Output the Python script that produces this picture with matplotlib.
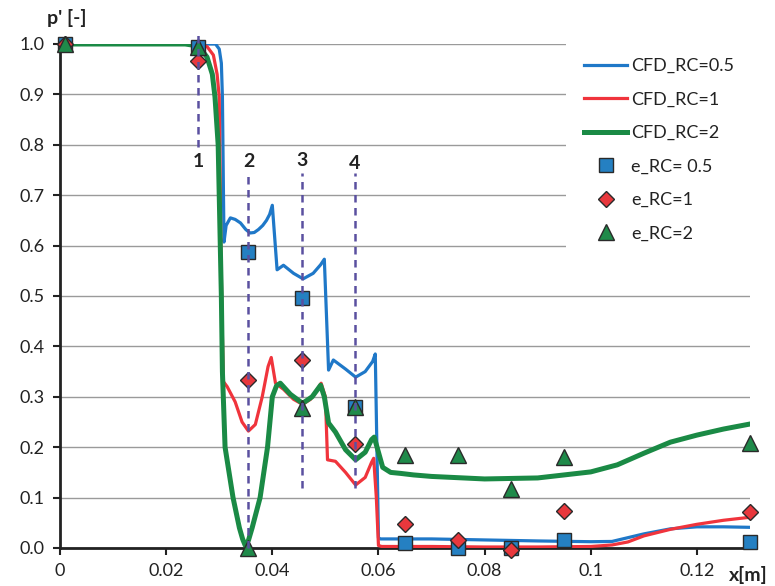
import matplotlib
matplotlib.use('Agg')
import matplotlib.pyplot as plt

plt.rcParams['font.family'] = ['Lato', 'DejaVu Sans']

# ---------------- data ----------------
cfd05_x = [0, 0.0264, 0.0293, 0.0300, 0.0304, 0.0306, 0.0308, 0.0309, 0.0313, 0.0321, 0.0330, 0.0340,
           0.0350, 0.0358, 0.0366, 0.0374, 0.0382, 0.0389, 0.0395, 0.0400, 0.0409, 0.0421, 0.0440,
           0.0458, 0.0477, 0.0491, 0.0498, 0.0506, 0.0515, 0.0538, 0.0557, 0.0575, 0.0589, 0.0594,
           0.0600, 0.0604, 0.070, 0.080, 0.090, 0.100, 0.104, 0.110, 0.115, 0.120, 0.125, 0.130]
cfd05_y = [1.0, 1.0, 1.0, 0.99, 0.962, 0.895, 0.70, 0.607, 0.64, 0.655, 0.652, 0.645,
           0.632, 0.625, 0.626, 0.632, 0.640, 0.650, 0.662, 0.680, 0.552, 0.561, 0.545,
           0.534, 0.545, 0.562, 0.573, 0.353, 0.373, 0.355, 0.339, 0.350, 0.370, 0.385,
           0.020, 0.018, 0.018, 0.016, 0.014, 0.0125, 0.013, 0.028, 0.038, 0.042, 0.042, 0.041]

cfd1_x = [0, 0.0255, 0.0277, 0.0289, 0.0296, 0.0300, 0.0303, 0.0306, 0.0308, 0.0315, 0.0330, 0.0343,
          0.0355, 0.0368, 0.0381, 0.0392, 0.0398, 0.0406, 0.0421, 0.0440, 0.0457, 0.0472, 0.0485,
          0.0492, 0.0500, 0.0504, 0.0519, 0.0538, 0.0557, 0.0575, 0.0587, 0.0591, 0.0596, 0.0600,
          0.0606, 0.070, 0.080, 0.090, 0.100, 0.104, 0.107, 0.110, 0.115, 0.120, 0.125, 0.130]
cfd1_y = [1.0, 1.0, 0.995, 0.978, 0.94, 0.895, 0.60, 0.42, 0.33, 0.32, 0.29, 0.25,
          0.232, 0.245, 0.30, 0.36, 0.378, 0.327, 0.315, 0.295, 0.285, 0.295, 0.315,
          0.327, 0.30, 0.175, 0.172, 0.150, 0.125, 0.140, 0.170, 0.178, 0.10, 0.005,
          0.003, 0.003, 0.002, 0.002, 0.003, 0.006, 0.012, 0.024, 0.037, 0.047, 0.055, 0.061]

cfd2_x = [0, 0.0236, 0.0255, 0.0264, 0.0277, 0.0287, 0.0292, 0.0298, 0.0302, 0.0304, 0.0306, 0.0311,
          0.0326, 0.0338, 0.0344, 0.0349, 0.0355, 0.0362, 0.0377, 0.0391, 0.0400, 0.0408, 0.0415,
          0.0434, 0.0457, 0.0475, 0.0491, 0.0498, 0.0506, 0.0519, 0.0538, 0.0557, 0.0575, 0.0587,
          0.0592, 0.0600, 0.0608, 0.0623, 0.0642, 0.0666, 0.070, 0.080, 0.090, 0.095, 0.100, 0.105,
          0.110, 0.115, 0.120, 0.125, 0.130]
cfd2_y = [1.0, 1.0, 0.997, 0.992, 0.974, 0.94, 0.895, 0.80, 0.60, 0.50, 0.35, 0.20,
          0.10, 0.04, 0.018, 0.005, 0.015, 0.04, 0.10, 0.20, 0.30, 0.322, 0.327,
          0.305, 0.287, 0.30, 0.323, 0.30, 0.248, 0.23, 0.195, 0.175, 0.19, 0.215,
          0.22, 0.19, 0.16, 0.15, 0.148, 0.145, 0.142, 0.137, 0.139, 0.145, 0.151, 0.165,
          0.188, 0.21, 0.224, 0.236, 0.246]

exp_x = [0.001, 0.026, 0.0355, 0.0455, 0.0555, 0.065, 0.075, 0.085, 0.095, 0.130]
e05_y = [1.0, 0.995, 0.587, 0.496, 0.280, 0.010, 0.0, 0.0, 0.016, 0.012]
e1_y = [1.0, 0.966, 0.333, 0.373, 0.206, 0.048, 0.016, -0.004, 0.074, 0.071]
e2_y = [1.0, 0.995, 0.0, 0.278, 0.280, 0.185, 0.185, 0.117, 0.181, 0.208]

probe_x = [0.026, 0.0355, 0.0455, 0.0555]
probe_labels = ['1', '2', '3', '4']
probe_top = [1.018, 0.744, 0.744, 0.744]
probe_bottom = [0.796, 0.0, 0.12, 0.12]
probe_label_y = [0.766, 0.766, 0.768, 0.762]

x_ticks = [0, 0.02, 0.04, 0.06, 0.08, 0.1, 0.12]
x_ticklabels = ['0', '0.02', '0.04', '0.06', '0.08', '0.1', '0.12']
y_ticks = [0.0, 0.1, 0.2, 0.3, 0.4, 0.5, 0.6, 0.7, 0.8, 0.9, 1.0]
y_ticklabels = ['0.0', '0.1', '0.2', '0.3', '0.4', '0.5', '0.6', '0.7', '0.8', '0.9', '1.0']

# ---------------- style ----------------
BLUE = '#1f78c8'
RED = '#f0343c'
GREEN = '#1a8a45'
DASH = '#5a50a0'
TXT = '#222222'

fig = plt.figure(figsize=(7.75, 5.86), dpi=100)
ax = fig.add_axes([60 / 775, 38 / 586, 690 / 775, 504 / 586])

ax.plot(cfd05_x, cfd05_y, color=BLUE, lw=2.3, label='CFD_RC=0.5', zorder=3, solid_joinstyle='round')
ax.plot(cfd1_x, cfd1_y, color=RED, lw=2.3, label='CFD_RC=1', zorder=3.1, solid_joinstyle='round')
ax.plot(cfd2_x, cfd2_y, color=GREEN, lw=3.6, label='CFD_RC=2', zorder=3.2, solid_joinstyle='round')

ax.plot(exp_x, e05_y, ls='none', marker='s', ms=10.5, mfc='#2580c2', mec='#2a2a2a', mew=1.0,
        label='e_RC= 0.5', zorder=4, clip_on=False)
ax.plot(exp_x, e1_y, ls='none', marker='D', ms=8.5, mfc='#e8383d', mec='#2a2a2a', mew=1.0,
        label='e_RC=1', zorder=4.1, clip_on=False)
ax.plot(exp_x, e2_y, ls='none', marker='^', ms=12, mfc='#1f8a4a', mec='#2a2a2a', mew=1.0,
        label='e_RC=2', zorder=4.2, clip_on=False)

for px, lab, yt, yb, yl in zip(probe_x, probe_labels, probe_top, probe_bottom, probe_label_y):
    ax.plot([px, px], [yb, yt], color=DASH, lw=1.8, dashes=(3, 2.2), zorder=5, clip_on=False)
    ax.text(px, yl, lab, ha='center', va='center', fontsize=14, fontweight='bold', color=TXT, zorder=6)

ax.set_xlim(0, 0.13)
ax.set_ylim(0, 1.0)
ax.set_xticks(x_ticks)
ax.set_xticklabels(x_ticklabels)
ax.set_yticks(y_ticks)
ax.set_yticklabels(y_ticklabels)
ax.tick_params(axis='both', direction='out', length=5, width=1.5, color='#222222',
               labelsize=13, labelcolor=TXT, pad=6)

for s in ['top', 'right']:
    ax.spines[s].set_visible(False)
for s in ['left', 'bottom']:
    ax.spines[s].set_linewidth(2.0)
    ax.spines[s].set_color('#222222')

ax.yaxis.grid(True, color='#9a9a9a', linewidth=1.0)
ax.set_axisbelow(True)

leg = ax.legend(loc='upper left', bbox_to_anchor=(566 / 775, 1 - 40 / 586),
                bbox_transform=fig.transFigure, borderaxespad=0, borderpad=1.0,
                fontsize=13, handlelength=2.4, handletextpad=0.2, labelspacing=0.97,
                frameon=True, fancybox=False, framealpha=1.0)
leg.get_frame().set_edgecolor('none')
leg.get_frame().set_facecolor('white')
for t in leg.get_texts():
    t.set_color(TXT)
leg.set_zorder(10)

fig.text(67 / 775, 1 - 18 / 586, "p' [-]", ha='center', va='center', fontsize=14,
         fontweight='bold', color=TXT)
fig.text(748 / 775, 1 - 575 / 586, 'x[m]', ha='center', va='center', fontsize=14,
         fontweight='bold', color=TXT)

fig.savefig('out.png', dpi=100)
